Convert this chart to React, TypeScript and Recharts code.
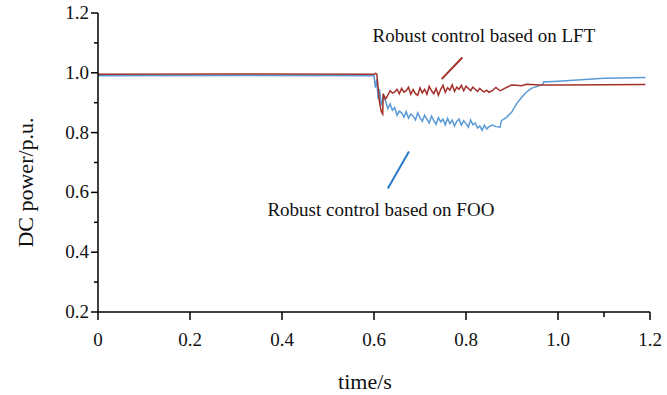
import React from 'react';
import { LineChart, Line, XAxis, YAxis, ReferenceLine, ReferenceDot } from 'recharts';

const times = [
  0, 0.3, 0.6, 0.603, 0.606, 0.609, 0.612, 0.616, 0.619, 0.62, 0.625, 0.63, 0.635, 0.64, 0.645, 0.65,
  0.655, 0.66, 0.665, 0.67, 0.675, 0.68, 0.685, 0.69, 0.695, 0.7, 0.705, 0.71, 0.715, 0.72, 0.725,
  0.73, 0.735, 0.74, 0.745, 0.75, 0.755, 0.76, 0.765, 0.77, 0.775, 0.78, 0.785, 0.79, 0.795, 0.8,
  0.805, 0.81, 0.815, 0.82, 0.825, 0.83, 0.835, 0.84, 0.845, 0.85, 0.857, 0.865, 0.874, 0.877,
  0.888, 0.899, 0.91, 0.921, 0.931, 0.942, 0.96, 0.967, 0.969, 1.0, 1.1, 1.19,
];
const lft = [
  0.995, 0.996, 0.995, 0.998, 0.996, 0.95, 0.9, 0.87, 0.862, 0.93,
  0.912, 0.925, 0.94, 0.932, 0.936, 0.945, 0.93, 0.948, 0.935, 0.94, 0.952, 0.928, 0.944, 0.93, 0.925,
  0.95, 0.933, 0.945, 0.928, 0.955, 0.94, 0.93, 0.948, 0.925, 0.945, 0.958, 0.935, 0.95, 0.942, 0.96,
  0.938, 0.952, 0.945, 0.958, 0.94, 0.955, 0.948, 0.94, 0.952, 0.945, 0.938, 0.948, 0.94, 0.936, 0.942, 0.935,
  0.94, 0.951, 0.94, 0.942, 0.951, 0.959, 0.958, 0.957, 0.962, 0.961, 0.959, 0.959, 0.959, 0.959, 0.96, 0.961,
];
const foo = [
  0.99, 0.991, 0.99, 0.95, 0.978, 0.912, 0.945, 0.89, 0.91, 0.923,
  0.907, 0.88, 0.896, 0.875, 0.884, 0.858, 0.872, 0.866, 0.852, 0.87, 0.848, 0.862, 0.855, 0.842, 0.866,
  0.85, 0.838, 0.858, 0.845, 0.832, 0.855, 0.84, 0.828, 0.85, 0.836, 0.845, 0.826, 0.848, 0.83, 0.842,
  0.822, 0.838, 0.845, 0.825, 0.84, 0.83, 0.818, 0.842, 0.826, 0.832, 0.815, 0.822, 0.808, 0.825, 0.812, 0.82,
  0.825, 0.82, 0.818, 0.84, 0.851, 0.868, 0.896, 0.918, 0.935, 0.948, 0.957, 0.962, 0.969, 0.972, 0.982, 0.984,
];

const xTicks = [0, 0.2, 0.4, 0.6, 0.8, 1.0, 1.1, 1.2];
const xMajor = [0, 0.2, 0.4, 0.6, 0.8, 1.0, 1.2];
const yTicks = [0.2, 0.3, 0.4, 0.5, 0.6, 0.7, 0.8, 0.9, 1.0, 1.1, 1.2];
const yMajor = [0.2, 0.4, 0.6, 0.8, 1.0, 1.2];

const labelLFT = 'Robust control based on LFT';
const labelFOO = 'Robust control based on FOO';
const xTitle = 'time/s';
const yTitle = 'DC power/p.u.';

const data = times.map((t, i) => ({ t, lft: lft[i], foo: foo[i] }));

const FONT = "'Liberation Serif', 'Times New Roman', 'DejaVu Serif', serif";
const isMajor = (list: number[], v: number) => list.some((m) => Math.abs(m - v) < 1e-6);
const fmt = (v: number) => (v === 0 ? '0' : v.toFixed(1));

const XTick = (props: any) => {
  const { x, y, payload } = props;
  const major = isMajor(xMajor, payload.value);
  return (
    <g>
      <line x1={x} x2={x} y1={y} y2={y + (major ? 8 : 5)} stroke="#000" strokeWidth={1.5} />
      {major && (
        <text x={x} y={y + 34} textAnchor="middle" style={{ fontFamily: FONT, fontSize: 19 }} fill="#111">
          {fmt(payload.value)}
        </text>
      )}
    </g>
  );
};

const YTick = (props: any) => {
  const { x, y, payload } = props;
  const major = isMajor(yMajor, payload.value);
  return (
    <g>
      <line x1={x} x2={x - (major ? 7 : 4)} y1={y} y2={y} stroke="#000" strokeWidth={1.5} />
      {major && (
        <text x={x - 9} y={y + 6} textAnchor="end" style={{ fontFamily: FONT, fontSize: 19 }} fill="#111">
          {fmt(payload.value)}
        </text>
      )}
    </g>
  );
};

const XTitle = (props: any) => {
  const vb = props.viewBox;
  return (
    <text x={vb.x + vb.width / 2 - 9} y={389} textAnchor="middle" style={{ fontFamily: FONT, fontSize: 22 }} fill="#111">
      {xTitle}
    </text>
  );
};

const YTitle = (props: any) => {
  const vb = props.viewBox;
  const cx = 33;
  const cy = vb.y + vb.height / 2 + 20;
  return (
    <text x={cx} y={cy} textAnchor="middle" transform={`rotate(-90, ${cx}, ${cy})`} style={{ fontFamily: FONT, fontSize: 22 }} fill="#111">
      {yTitle}
    </text>
  );
};

const makeNote = (value: string) => (props: any) => {
  const vb = props.viewBox || {};
  const cx = (vb.x ?? 0) + (vb.width ?? 0) / 2;
  const cy = (vb.y ?? 0) + (vb.height ?? 0) / 2;
  return (
    <text x={cx} y={cy + 6} textAnchor="middle" style={{ fontFamily: FONT, fontSize: 19 }} fill="#111">
      {value}
    </text>
  );
};

export default function App() {
  return (
    <div style={{ position: 'absolute', left: 0, top: 0, width: 667, height: 395, background: '#fff' }}>
      <LineChart width={667} height={395} data={data} margin={{ top: 13, right: 17, left: 0, bottom: 0 }}>
        <XAxis
          dataKey="t"
          type="number"
          domain={[0, 1.2]}
          ticks={xTicks}
          tickSize={0}
          tickMargin={0}
          tick={<XTick />}
          height={83}
          stroke="#000"
          strokeWidth={1.5}
          interval={0}
          label={<XTitle />}
        />
        <YAxis
          type="number"
          domain={[0.2, 1.2]}
          ticks={yTicks}
          tickSize={0}
          tickMargin={0}
          tick={<YTick />}
          width={98}
          stroke="#000"
          strokeWidth={1.5}
          interval={0}
          allowDataOverflow
          label={<YTitle />}
        />
        <Line dataKey="foo" stroke="#5b9bd5" strokeWidth={1.5} dot={false} isAnimationActive={false} />
        <Line dataKey="lft" stroke="#a3302a" strokeWidth={1.5} dot={false} isAnimationActive={false} />
        <ReferenceLine segment={[{ x: 0.747, y: 0.979 }, { x: 0.792, y: 1.051 }]} stroke="#a3302a" strokeWidth={2} />
        <ReferenceLine segment={[{ x: 0.63, y: 0.613 }, { x: 0.676, y: 0.737 }]} stroke="#2a78c8" strokeWidth={2} />
        <ReferenceDot x={0.839} y={1.123} r={0} fill="none" stroke="none" label={makeNote(labelLFT)} />
        <ReferenceDot x={0.615} y={0.54} r={0} fill="none" stroke="none" label={makeNote(labelFOO)} />
      </LineChart>
    </div>
  );
}
